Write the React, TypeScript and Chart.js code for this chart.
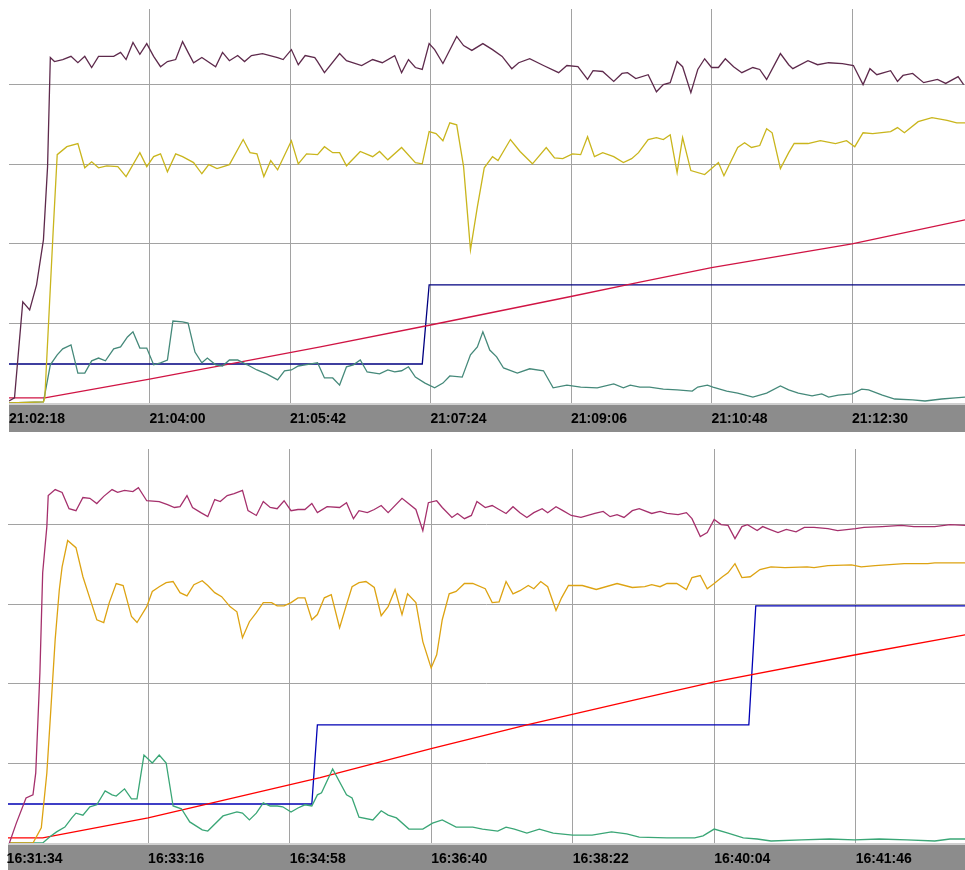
import React, { useEffect, useRef } from 'react';
import { Chart, registerables } from 'chart.js';

Chart.register(...registerables);

// ---------- Top recording (start 21:02:18), x = seconds from start ----------
const topTickSecs = [0, 102, 204, 306, 408, 510, 612];
const topTickLabels = ['21:02:18', '21:04:00', '21:05:42', '21:07:24', '21:09:06', '21:10:48', '21:12:30'];

const topPurpleT = [0,4,10,15,20,25,28,30,33,39,45,50,55,60,65,76,81,85,90,95,100,105,110,115,121,126,130,134,140,150,155,160,166,171,176,184,195,199,205,210,215,222,224,229,240,245,256,264,271,280,285,290,295,300,305,309,315,325,330,336,344,351,358,365,370,378,388,399,405,413,420,424,431,439,445,449,455,464,470,475,480,485,489,495,500,505,510,515,520,526,532,540,545,550,560,566,569,580,587,595,605,613,620,625,630,640,645,649,656,664,674,680,689,693];
const topPurpleV = [0.5,1.3,25.4,23.4,29.7,41.0,59.4,86.8,85.8,86.3,87.1,85.5,87.1,84.3,87.1,87.1,88.1,86.3,90.6,87.6,90.3,87.1,84.5,85.8,86.3,90.8,88.1,85.5,86.8,84.5,88.1,86.0,87.3,85.8,87.3,87.8,86.8,86.3,88.8,85.0,87.3,86.8,85.8,83.0,87.8,86.0,84.8,86.3,85.5,87.3,83.0,86.3,84.3,83.8,90.3,88.8,85.3,92.1,89.8,88.6,90.3,88.8,87.1,84.0,85.5,86.5,84.8,83.0,84.8,84.5,81.3,83.5,83.3,80.8,82.8,83.0,81.5,82.5,78.2,80.0,80.5,85.8,84.5,78.0,83.8,86.5,84.3,84.3,86.5,84.5,83.0,84.3,83.8,81.3,87.8,85.0,84.0,86.0,85.0,85.5,85.3,84.8,80.0,84.0,82.5,83.5,80.8,82.3,82.8,80.5,81.3,80.3,82.0,80.0];

const topYellowT = [0,25,26,32,35,42,50,55,60,65,71,79,85,95,100,105,110,115,121,126,134,140,145,151,160,170,175,180,185,190,195,205,210,216,224,229,235,240,245,255,264,269,275,285,295,300,305,310,315,320,325,330,335,340,345,351,355,364,371,380,390,396,402,409,415,420,425,431,439,446,452,457,464,470,475,480,485,489,495,505,515,519,529,534,539,545,550,554,560,566,570,580,589,600,608,614,620,627,640,645,650,660,670,681,688,694];
const topYellowV = [0,0.3,1.3,42.8,62.4,64.4,65.2,59.1,60.6,59.1,59.6,59.4,56.9,62.9,59.4,61.9,62.6,58.1,62.6,61.9,60.4,57.6,59.9,58.9,59.9,66.2,62.9,62.6,56.9,60.9,58.6,65.9,60.1,62.6,62.4,64.4,62.9,62.9,59.6,63.2,61.9,63.2,61.1,64.2,60.4,60.1,68.2,67.7,65.9,70.4,69.9,59.4,38.5,49.3,59.1,61.9,60.9,66.2,63.2,60.1,64.2,61.6,61.4,62.6,62.4,66.9,61.9,62.9,61.9,60.4,61.4,62.9,66.2,66.7,66.2,67.4,57.9,66.7,58.4,57.4,60.4,57.1,64.2,65.4,64.2,64.7,68.9,67.9,58.9,62.9,65.2,65.2,65.9,65.2,65.9,64.4,67.9,67.7,68.2,69.2,67.9,70.7,71.7,71.0,70.4,70.4];

const topTealT = [0,25,30,35,39,45,50,55,60,65,70,76,81,86,90,95,100,105,110,115,119,126,130,135,140,144,150,155,160,166,173,180,187,195,200,205,210,215,224,229,235,240,245,250,255,260,269,275,280,285,290,295,302,309,315,320,329,335,340,344,349,354,359,369,378,388,395,405,415,427,439,446,451,458,465,475,485,496,500,507,511,521,529,540,550,560,566,573,583,590,595,602,612,619,624,634,643,656,665,677,687,694];
const topTealV = [0,0.3,9.6,12.1,13.6,14.6,7.5,7.5,10.6,11.3,10.6,13.6,14.1,16.6,17.9,13.8,13.8,9.6,10.1,10.8,20.6,20.4,20.1,12.8,10.1,11.3,9.6,9.3,10.8,10.8,9.6,8.3,7.3,5.8,8.1,8.3,9.3,9.6,10.1,6.3,6.3,4.5,9.1,9.6,10.8,7.8,7.3,8.3,7.8,8.1,9.1,6.5,5.0,3.8,5.0,6.8,6.5,12.1,14.1,17.9,13.3,11.6,8.8,7.5,8.6,8.1,3.8,4.5,4.0,3.8,4.8,3.8,4.5,4.0,4.0,3.5,3.3,3.0,4.0,4.5,4.0,3.0,2.5,1.5,2.5,4.3,3.3,2.5,1.8,2.3,1.5,2.0,2.3,3.5,3.3,2.0,1.0,0.8,0.5,1.0,1.3,1.5];

const topRedT = [0,26,102,226,306,407,458,510,612,694];
const topRedV = [1.3,1.3,6.0,14.1,19.6,26.7,30.4,34.0,40.0,46.0];

const topBlueT = [0,300,305,694];
const topBlueV = [9.8,9.8,29.7,29.7];

// ---------- Bottom recording (start 16:31:34) ----------
const botTickSecs = [0, 102, 204, 306, 408, 510, 612];
const botTickLabels = ['16:31:34', '16:33:16', '16:34:58', '16:36:40', '16:38:22', '16:40:04', '16:41:46'];

const botMagentaT = [2,7,14,19,21,24,26,29,30,35,40,45,50,55,60,65,70,76,80,85,91,95,101,110,116,121,125,130,134,140,145,150,154,159,164,170,174,180,185,190,195,200,205,210,215,220,224,231,240,245,250,254,260,265,270,275,285,289,295,300,304,310,314,321,325,330,335,339,345,350,354,360,365,370,375,380,386,390,396,401,407,414,424,430,435,440,445,451,456,465,471,476,484,490,494,500,505,510,515,520,525,530,534,541,545,550,556,562,569,575,582,592,599,612,618,631,645,654,669,680,691];
const botMagentaV = [0,5.0,11.3,12.1,17.6,42.8,67.9,79.5,87.3,88.8,88.1,84.0,83.5,86.8,86.6,85.3,87.1,88.8,88.1,88.6,88.3,89.3,86.0,85.8,85.0,84.3,84.5,87.3,84.3,83.0,82.0,86.3,85.8,87.3,87.8,88.6,83.5,82.3,85.8,84.3,84.0,86.0,83.5,83.8,83.8,85.3,83.0,84.5,84.3,85.5,81.5,83.5,83.0,83.8,84.8,83.0,86.6,85.5,83.8,78.5,85.5,86.0,84.3,81.8,82.8,81.5,82.3,85.8,84.3,84.8,84.0,82.8,84.5,83.0,81.8,83.0,84.0,83.0,84.5,83.5,82.3,81.8,82.8,83.3,82.0,82.5,81.8,83.5,84.0,82.8,83.3,82.8,82.5,83.0,81.5,77.0,78.0,81.3,80.0,79.8,76.5,79.5,80.0,78.5,79.5,78.8,78.0,78.8,78.2,79.3,79.3,79.0,78.5,79.0,79.3,79.5,79.8,79.5,79.5,80.0,79.8];

const botOrangeT = [2,19,25,29,32,35,38,40,44,50,55,61,65,70,74,79,84,90,94,101,105,110,115,120,125,130,135,141,145,150,155,161,166,170,175,180,185,191,195,200,205,210,215,220,224,229,234,240,245,249,254,259,265,270,275,280,285,289,295,300,306,310,314,319,324,330,336,345,350,355,360,365,370,376,380,385,390,396,400,405,415,425,440,451,460,465,471,476,483,490,494,500,505,510,516,520,525,530,536,543,551,561,577,582,592,609,616,626,647,664,669,691];
const botOrangeV = [0,0,3.8,17.6,34.2,51.1,63.7,69.4,76.0,74.2,66.9,60.4,56.1,55.4,60.4,65.2,64.7,56.9,55.4,59.4,63.2,64.4,65.4,65.7,62.9,62.1,64.9,65.9,64.7,62.9,61.9,59.4,58.1,51.6,55.6,57.9,60.4,60.4,59.6,59.6,60.4,61.6,61.6,56.1,57.4,61.6,62.4,54.1,59.9,64.4,65.4,65.7,64.2,57.1,59.4,63.7,57.4,62.6,60.4,50.6,44.0,47.3,56.1,62.6,63.2,65.2,65.2,63.9,60.4,60.6,65.7,62.6,63.4,64.7,63.9,65.7,64.4,58.4,61.6,64.7,64.7,63.7,65.2,64.2,64.4,64.9,64.4,65.2,65.2,63.7,66.7,67.2,63.9,65.2,66.9,67.9,70.2,66.7,66.9,68.7,69.4,69.2,69.4,69.2,69.7,69.9,69.4,69.7,70.2,70.2,70.4,70.4];

const botGreenT = [2,26,31,36,42,47,50,55,60,65,71,76,79,85,90,94,99,105,110,115,120,126,132,141,145,156,166,170,175,180,185,190,195,199,205,210,215,220,224,227,235,245,249,254,264,270,275,281,290,300,307,314,324,336,343,354,360,366,375,384,394,408,422,436,447,456,476,496,502,510,520,531,541,551,573,593,611,629,649,669,680,691];
const botGreenV = [0,0,1.5,2.8,4.0,6.3,7.5,7.0,9.1,9.6,13.1,12.1,11.8,13.6,11.1,11.1,22.1,20.1,22.1,20.1,9.3,8.6,5.3,3.3,3.0,6.8,7.8,7.5,5.8,7.5,10.1,9.3,9.3,9.1,7.8,8.8,9.6,9.3,12.1,12.6,18.6,12.1,11.3,6.5,5.8,8.1,7.0,6.3,3.5,3.5,5.0,5.8,4.0,4.0,3.5,3.0,4.0,3.5,2.5,3.5,2.5,2.0,2.0,2.8,2.3,1.5,1.3,1.3,1.8,3.5,2.5,1.3,1.0,0.5,0.8,1.0,0.8,1.0,0.8,0.5,1.0,1.0];

const botRedT = [0,26,102,226,306,375,456,510,612,691];
const botRedV = [1.3,1.3,6.3,16.4,23.7,29.7,36.2,40.5,47.3,52.3];

const botBlueT = [0,220,224,535,540,691];
const botBlueV = [9.8,9.8,29.7,29.7,59.6,59.6];

const gridValues = [20, 40, 60, 80];

type Series = { t: number[]; v: number[]; color: string };

const topSeries: Series[] = [
  { t: topPurpleT, v: topPurpleV, color: '#5e2a4c' },
  { t: topYellowT, v: topYellowV, color: '#c9b51c' },
  { t: topTealT, v: topTealV, color: '#45897a' },
  { t: topRedT, v: topRedV, color: '#d01444' },
  { t: topBlueT, v: topBlueV, color: '#000080' },
];

const botSeries: Series[] = [
  { t: botMagentaT, v: botMagentaV, color: '#a5306c' },
  { t: botOrangeT, v: botOrangeV, color: '#dda312' },
  { t: botGreenT, v: botGreenV, color: '#3aa676' },
  { t: botRedT, v: botRedV, color: '#ff0000' },
  { t: botBlueT, v: botBlueV, color: '#0000b4' },
];

const bandPlugin = {
  id: 'axisBand',
  beforeDraw(chart: any) {
    const { ctx, chartArea, width, height } = chart;
    ctx.save();
    ctx.fillStyle = '#8c8c8c';
    ctx.fillRect(chartArea.left, chartArea.bottom, width - chartArea.left, height - chartArea.bottom);
    ctx.fillStyle = '#d0d0d0';
    ctx.fillRect(chartArea.left, chartArea.bottom, width - chartArea.left, 2);
    ctx.restore();
  },
};

type Props = {
  top: number;
  leftPad: number;
  minSec: number;
  maxSec: number;
  tickSecs: number[];
  tickLabels: string[];
  series: Series[];
};

function TraceChart({ top, leftPad, minSec, maxSec, tickSecs, tickLabels, series }: Props) {
  const ref = useRef<HTMLCanvasElement>(null);
  useEffect(() => {
    const chart = new Chart(ref.current as HTMLCanvasElement, {
      type: 'line',
      data: {
        datasets: series.map((s) => ({
          data: s.t.map((t, i) => ({ x: t, y: s.v[i] })),
          borderColor: s.color,
          borderWidth: 1.3,
          pointRadius: 0,
          tension: 0,
          fill: false,
        })),
      },
      options: {
        animation: false,
        responsive: false,
        layout: { padding: { left: leftPad, top: 9, right: 0, bottom: 0 } },
        plugins: { legend: { display: false }, tooltip: { enabled: false } },
        scales: {
          x: {
            type: 'linear',
            min: minSec,
            max: maxSec,
            afterBuildTicks: (s: any) => {
              s.ticks = tickSecs.map((v) => ({ value: v }));
            },
            afterFit: (s: any) => {
              s.height = 29;
            },
            grid: {
              color: (c: any) => (c.tick && c.tick.value === 0 ? 'rgba(0,0,0,0)' : '#a2a2a2'),
              drawTicks: false,
              lineWidth: 1,
            },
            border: { display: false },
            ticks: {
              autoSkip: false,
              maxRotation: 0,
              minRotation: 0,
              align: 'start',
              padding: 0,
              color: '#000000',
              font: { family: "'Liberation Sans', Arial, sans-serif", size: 14, weight: 'bold', lineHeight: 32 / 14 },
              callback: (_v: any, i: number) => tickLabels[i],
            },
          },
          y: {
            type: 'linear',
            min: 0,
            max: 99,
            afterBuildTicks: (s: any) => {
              s.ticks = gridValues.map((v) => ({ value: v }));
            },
            afterFit: (s: any) => {
              s.width = 0;
            },
            grid: { color: '#a2a2a2', drawTicks: false, lineWidth: 1 },
            border: { display: false },
            ticks: { display: false },
          },
        },
      } as any,
      plugins: [bandPlugin],
    });
    return () => chart.destroy();
  }, []);
  return (
    <canvas
      ref={ref}
      width={965}
      height={432}
      style={{ position: 'absolute', left: 0, top, width: 965, height: 432 }}
    />
  );
}

export default function App() {
  return (
    <div
      style={{
        position: 'absolute',
        left: 0,
        top: 0,
        width: 965,
        height: 870,
        overflow: 'hidden',
        background: '#ffffff',
      }}
    >
      <TraceChart
        top={0}
        leftPad={9}
        minSec={0}
        maxSec={694}
        tickSecs={topTickSecs}
        tickLabels={topTickLabels}
        series={topSeries}
      />
      <TraceChart
        top={440}
        leftPad={8}
        minSec={1}
        maxSec={690.8}
        tickSecs={botTickSecs}
        tickLabels={botTickLabels}
        series={botSeries}
      />
    </div>
  );
}
